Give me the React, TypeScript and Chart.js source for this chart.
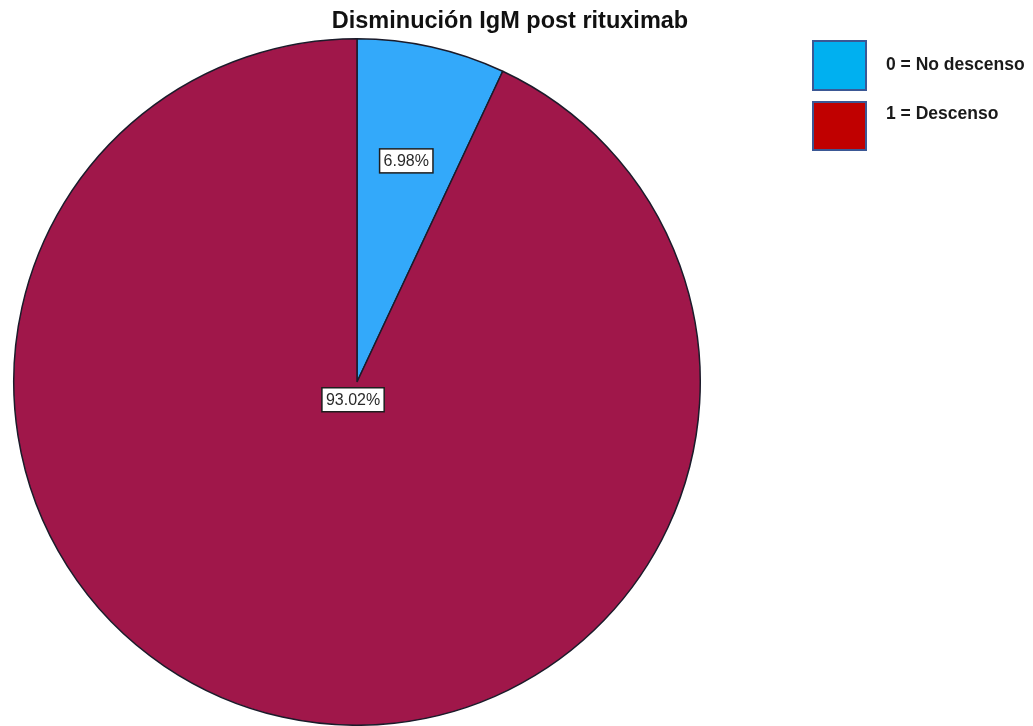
import React, { useEffect, useRef } from "react";
import { Chart, registerables } from "chart.js";

Chart.register(...registerables);

const categories = ["0 = No descenso", "1 = Descenso"];
const percentages = [6.98, 93.02];
const percentLabels = ["6.98%", "93.02%"];
const titleText = "Disminución IgM post rituximab";

const sliceColors = ["#33A9FA", "#A0174A"];
const legendColors = ["#00B0F0", "#C00000"];
const labelRadiusFrac = [0.66, 0.053];

const overlayPlugin = {
  id: "overlay",
  afterDraw(chart: any) {
    const ctx = chart.ctx as CanvasRenderingContext2D;
    ctx.save();
    // title
    ctx.fillStyle = "#111111";
    ctx.font = "bold 23.5px 'Liberation Sans', Arial, sans-serif";
    ctx.textAlign = "center";
    ctx.textBaseline = "alphabetic";
    ctx.fillText(titleText, 510, 27.5);

    // slice labels
    const meta = chart.getDatasetMeta(0);
    meta.data.forEach((arc: any, i: number) => {
      const p = arc.getProps(["x", "y", "startAngle", "endAngle", "outerRadius"], true);
      const mid = (p.startAngle + p.endAngle) / 2;
      const r = p.outerRadius * labelRadiusFrac[i];
      const lx = p.x + Math.cos(mid) * r;
      const ly = p.y + Math.sin(mid) * r;
      ctx.font = "16px 'Liberation Sans', Arial, sans-serif";
      const text = percentLabels[i];
      const w = ctx.measureText(text).width + 8;
      const h = 24;
      ctx.fillStyle = "#ffffff";
      ctx.fillRect(lx - w / 2, ly - h / 2, w, h);
      ctx.strokeStyle = "#1e1e1e";
      ctx.lineWidth = 1.5;
      ctx.strokeRect(lx - w / 2, ly - h / 2, w, h);
      ctx.fillStyle = "#2a2a2a";
      ctx.textAlign = "center";
      ctx.textBaseline = "middle";
      ctx.fillText(text, lx, ly + 1);
    });

    // legend
    const boxes = [
      { x: 813, y: 41, w: 53, h: 49, ty: 65 },
      { x: 813, y: 102, w: 53, h: 48, ty: 114 },
    ];
    categories.forEach((c, i) => {
      const b = boxes[i];
      ctx.fillStyle = legendColors[i];
      ctx.fillRect(b.x, b.y, b.w, b.h);
      ctx.strokeStyle = "#3B5895";
      ctx.lineWidth = 2;
      ctx.strokeRect(b.x, b.y, b.w, b.h);
      ctx.fillStyle = "#1a1a1a";
      ctx.font = "bold 17.5px 'Liberation Sans', Arial, sans-serif";
      ctx.textAlign = "left";
      ctx.textBaseline = "middle";
      ctx.fillText(c, 886, b.ty);
    });
    ctx.restore();
  },
};

export default function App() {
  const ref = useRef<HTMLCanvasElement | null>(null);
  useEffect(() => {
    if (!ref.current) return;
    const chart = new Chart(ref.current, {
      type: "pie",
      data: {
        labels: categories,
        datasets: [
          {
            data: percentages,
            backgroundColor: sliceColors,
            borderColor: "#1b1b2a",
            borderWidth: 1.5,
          },
        ],
      },
      options: {
        responsive: false,
        animation: false,
        layout: { padding: { left: 12, right: 331, top: 38, bottom: 0 } },
        plugins: {
          legend: { display: false },
          title: { display: false },
          tooltip: { enabled: false },
        },
      },
      plugins: [overlayPlugin],
    });
    return () => chart.destroy();
  }, []);
  return (
    <canvas
      ref={ref}
      width={1033}
      height={726}
      style={{ position: "absolute", left: 0, top: 0, display: "block", background: "#ffffff" }}
    />
  );
}
